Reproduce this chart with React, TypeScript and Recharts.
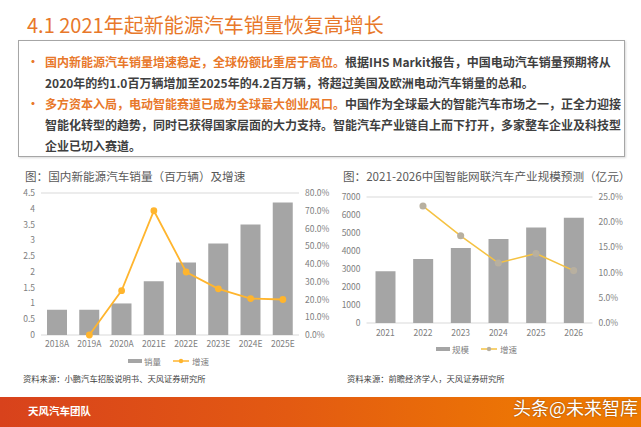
import React from 'react';
import {
  ComposedChart,
  Bar,
  Line,
  XAxis,
  YAxis,
  CartesianGrid,
  Legend,
} from 'recharts';

// left chart: domestic NEV sales (million units) and growth
const salesYears = ['2018A', '2019A', '2020A', '2021E', '2022E', '2023E', '2024E', '2025E'];
const salesVolume = [0.8, 0.8, 1.0, 1.7, 2.3, 2.9, 3.5, 4.2];
const salesGrowth = [null, 0, 25, 70, 35.5, 26, 20.5, 20];

// right chart: intelligent connected vehicle market size (100M CNY)
const icvYears = ['2021', '2022', '2023', '2024', '2025', '2026'];
const icvScale = [2880, 3550, 4160, 4660, 5300, 5850];
const icvGrowth = [null, 23.2, 17.3, 11.9, 13.8, 10.4];

const salesTicks = [0, 0.5, 1, 1.5, 2, 2.5, 3, 3.5, 4, 4.5];
const salesPctTicks = [0, 10, 20, 30, 40, 50, 60, 70, 80];
const icvTicks = [0, 1000, 2000, 3000, 4000, 5000, 6000, 7000];
const icvPctTicks = [0, 5, 10, 15, 20, 25];

const salesData = salesYears.map((year, i) => ({
  year,
  volume: salesVolume[i],
  growth: salesGrowth[i],
}));

const icvData = icvYears.map((year, i) => ({
  year,
  scale: icvScale[i],
  growth: icvGrowth[i],
}));

const FONT = '"Noto Sans CJK SC", "Noto Sans", sans-serif';
const ORANGE = '#E8782A';
const DARK = '#3F3F3F';
const TICK = { fontSize: 8.5, fill: '#808080', fontFamily: FONT };
const pct = (v: number) => `${v.toFixed(1)}%`;

// bar entry first, then the line, like the original Excel legend
const makeLegend = (lineColor: string, dotColor: string, shift: number) => (props: any) => {
  const items = [...(props.payload || [])].sort(
    (a: any, b: any) => (a.type === 'rect' ? 0 : 1) - (b.type === 'rect' ? 0 : 1)
  );
  return (
    <div
      style={{
        display: 'flex',
        justifyContent: 'center',
        alignItems: 'center',
        height: 12,
        paddingLeft: shift,
        fontSize: 8.5,
        color: '#808080',
        fontFamily: FONT,
      }}
    >
      {items.map((p: any) => (
        <span key={p.value} style={{ display: 'flex', alignItems: 'center', marginRight: 12 }}>
          {p.type === 'rect' ? (
            <svg width={14} height={8} style={{ marginRight: 2 }}>
              <rect x={0} y={2} width={14} height={4} fill="#A5A5A5" />
            </svg>
          ) : (
            <svg width={16} height={8} style={{ marginRight: 3 }}>
              <line x1={0} y1={4} x2={16} y2={4} stroke={lineColor} strokeWidth={1.5} />
              <circle cx={8} cy={4} r={2.2} fill={dotColor} />
            </svg>
          )}
          {p.value}
        </span>
      ))}
    </div>
  );
};

const Bullet = ({ y }: { y: number }) => (
  <div style={{ position: 'absolute', left: 27, top: y - 9, color: ORANGE, fontSize: 12, fontWeight: 700 }}>
    •
  </div>
);

const TextLine = ({ y, children }: { y: number; children: React.ReactNode }) => (
  <div
    style={{
      position: 'absolute',
      left: 45,
      top: y - 9,
      height: 18,
      lineHeight: '18px',
      fontSize: 12,
      fontWeight: 700,
      color: DARK,
      whiteSpace: 'nowrap',
    }}
  >
    {children}
  </div>
);

export default function App() {
  return (
    <div
      style={{
        position: 'absolute',
        left: 0,
        top: 0,
        width: 641,
        height: 427,
        background: '#fff',
        overflow: 'hidden',
        fontFamily: FONT,
      }}
    >
      {/* Title */}
      <div style={{ position: 'absolute', left: 27, top: 10, fontSize: 20, color: ORANGE, whiteSpace: 'nowrap' }}>
        4.1 2021年起新能源汽车销量恢复高增长
      </div>

      {/* Text box */}
      <div
        style={{
          position: 'absolute',
          left: 18,
          top: 40,
          width: 605,
          height: 115,
          border: '1px solid #A6A6A6',
          boxShadow: '1px 1px 2px rgba(0,0,0,0.15)',
        }}
      />
      <Bullet y={62} />
      <TextLine y={62}>
        <span style={{ color: ORANGE }}>国内新能源汽车销量增速稳定，全球份额比重居于高位。</span>
        根据IHS Markit报告，中国电动汽车销量预期将从
      </TextLine>
      <TextLine y={83}>2020年的约1.0百万辆增加至2025年的4.2百万辆，将超过美国及欧洲电动汽车销量的总和。</TextLine>
      <Bullet y={104} />
      <TextLine y={104}>
        <span style={{ color: ORANGE }}>多方资本入局，电动智能赛道已成为全球最大创业风口。</span>
        中国作为全球最大的智能汽车市场之一，正全力迎接
      </TextLine>
      <TextLine y={125}>智能化转型的趋势，同时已获得国家层面的大力支持。智能汽车产业链自上而下打开，多家整车企业及科技型</TextLine>
      <TextLine y={146}>企业已切入赛道。</TextLine>

      {/* Left chart */}
      <div style={{ position: 'absolute', left: 25, top: 168, fontSize: 11.6, color: '#595959', whiteSpace: 'nowrap' }}>
        图：国内新能源汽车销量（百万辆）及增速
      </div>
      <div style={{ position: 'absolute', left: 0, top: 185 }}>
        <ComposedChart width={340} height={195} data={salesData} margin={{ top: 8, right: 1, left: 0, bottom: 13 }}>
          <CartesianGrid vertical={false} stroke="#D9D9D9" />
          <XAxis dataKey="year" axisLine={false} tickLine={false} tickMargin={0} height={20} tick={TICK} interval={0} />
          <YAxis
            yAxisId="l"
            width={41}
            domain={[0, 4.5]}
            ticks={salesTicks}
            axisLine={false}
            tickLine={false}
            tickMargin={0}
            tick={TICK}
          />
          <YAxis
            yAxisId="r"
            orientation="right"
            width={40}
            domain={[0, 80]}
            ticks={salesPctTicks}
            tickFormatter={pct}
            axisLine={false}
            tickLine={false}
            tickMargin={0}
            tick={TICK}
          />
          <Legend verticalAlign="bottom" content={makeLegend('#FFB52E', '#FFB52E', 10)} />
          <Bar yAxisId="l" dataKey="volume" name="销量" fill="#A5A5A5" barSize={20} isAnimationActive={false} legendType="rect" />
          <Line
            yAxisId="r"
            dataKey="growth"
            name="增速"
            stroke="#FFB52E"
            strokeWidth={1.8}
            dot={{ r: 2.5, fill: '#FFB52E', stroke: '#FFB52E' }}
            isAnimationActive={false}
            legendType="line"
          />
        </ComposedChart>
      </div>
      <div style={{ position: 'absolute', left: 23, top: 372, fontSize: 8.3, color: DARK, whiteSpace: 'nowrap' }}>
        资料来源：小鹏汽车招股说明书、天风证券研究所
      </div>

      {/* Right chart */}
      <div style={{ position: 'absolute', left: 343, top: 168, fontSize: 11.6, color: '#595959', whiteSpace: 'nowrap' }}>
        图：2021-2026中国智能网联汽车产业规模预测（亿元）
      </div>
      <div style={{ position: 'absolute', left: 326, top: 189 }}>
        <ComposedChart width={302} height={175} data={icvData} margin={{ top: 8, right: 1, left: 0, bottom: 9 }}>
          <CartesianGrid vertical={false} stroke="#D9D9D9" />
          <XAxis dataKey="year" axisLine={false} tickLine={false} tickMargin={1} height={20} tick={TICK} interval={0} />
          <YAxis
            yAxisId="l"
            width={40.5}
            domain={[0, 7000]}
            ticks={icvTicks}
            axisLine={false}
            tickLine={false}
            tickMargin={0}
            tick={TICK}
          />
          <YAxis
            yAxisId="r"
            orientation="right"
            width={34.5}
            domain={[0, 25]}
            ticks={icvPctTicks}
            tickFormatter={pct}
            axisLine={false}
            tickLine={false}
            tickMargin={0}
            tick={TICK}
          />
          <Legend verticalAlign="bottom" content={makeLegend('#F5C242', '#B8B0A0', 12)} />
          <Bar yAxisId="l" dataKey="scale" name="规模" fill="#A5A5A5" barSize={20} isAnimationActive={false} legendType="rect" />
          <Line
            yAxisId="r"
            dataKey="growth"
            name="增速"
            stroke="#F5C242"
            strokeWidth={1.5}
            dot={{ r: 2.8, fill: '#B8B0A0', stroke: '#B8B0A0' }}
            isAnimationActive={false}
            legendType="line"
          />
        </ComposedChart>
      </div>
      <div style={{ position: 'absolute', left: 347, top: 372, fontSize: 8.3, color: DARK, whiteSpace: 'nowrap' }}>
        资料来源：前瞻经济学人，天风证券研究所
      </div>

      {/* Footer */}
      <div
        style={{
          position: 'absolute',
          left: 0,
          top: 397,
          width: 641,
          height: 30,
          background: 'linear-gradient(90deg, #D8421C 0%, #E35A12 45%, #EC7405 80%, #EE7A00 100%)',
        }}
      />
      <div style={{ position: 'absolute', left: 28, top: 403, fontSize: 10.5, fontWeight: 700, color: '#fff', whiteSpace: 'nowrap' }}>
        天风汽车团队
      </div>
      <div
        style={{
          position: 'absolute',
          left: 513,
          top: 394,
          fontSize: 18,
          color: '#fff',
          whiteSpace: 'nowrap',
          textShadow: '0 0 2px rgba(0,0,0,0.4)',
        }}
      >
        头条@未来智库
      </div>
    </div>
  );
}
